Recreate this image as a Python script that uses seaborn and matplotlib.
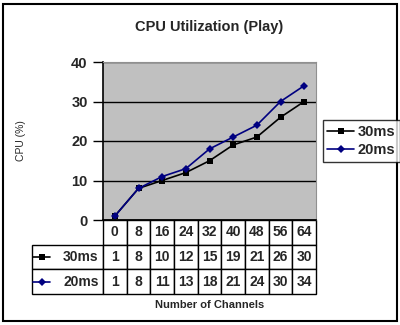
import matplotlib
matplotlib.use("Agg")
import matplotlib.pyplot as plt
import seaborn as sns
import pandas as pd
import numpy as np
from matplotlib.lines import Line2D
from matplotlib.patches import Rectangle

channels = [0, 8, 16, 24, 32, 40, 48, 56, 64]
cpu_30ms = [1, 8, 10, 12, 15, 19, 21, 26, 30]
cpu_20ms = [1, 8, 11, 13, 18, 21, 24, 30, 34]
series_names = ["30ms", "20ms"]
yticks = [0, 10, 20, 30, 40]

sns.set_theme(style="white")
plt.rcParams['font.family'] = ['Liberation Sans', 'DejaVu Sans']
plt.rcParams['font.weight'] = 'bold'

fig = plt.figure(figsize=(4, 3.25), dpi=100)
ax = fig.add_axes([103/400, 1-220/325, 213/400, 158/325])
ax.set_facecolor('#C0C0C0')

pos = np.arange(len(channels))
df = pd.DataFrame({"pos": np.concatenate([pos, pos]),
                   "cpu": cpu_30ms + cpu_20ms,
                   "series": [series_names[0]]*len(pos) + [series_names[1]]*len(pos)})
colors = {"30ms": "black", "20ms": "#000080"}
markers = {"30ms": "s", "20ms": "D"}
sizes = {"30ms": 5, "20ms": 4.2}
for name in series_names:
    sub = df[df.series == name]
    sns.lineplot(data=sub, x="pos", y="cpu", ax=ax, color=colors[name],
                 marker=markers[name], markersize=sizes[name], markeredgewidth=0,
                 linewidth=1.2, label=name, legend=False)

ax.set_xlim(-0.5, len(channels)-0.5)
ax.set_ylim(0, 40)
ax.set_yticks(yticks)
ax.set_yticklabels([str(t) for t in yticks], fontsize=10.5, fontweight='bold')
ax.set_xticks([])
ax.set_xlabel("")
ax.set_ylabel("CPU (%)", fontsize=7.5, fontweight='normal')
ax.yaxis.set_label_coords((26-103)/213, 0.5)
ax.yaxis.grid(True, color='black', linewidth=1)
ax.set_axisbelow(True)
ax.tick_params(axis='y', direction='out', length=7, width=1, color='black', left=True, pad=4)
for s in ['top', 'right']:
    ax.spines[s].set_color('#909090')
    ax.spines[s].set_linewidth(0.8)
ax.spines['left'].set_color('black')
ax.spines['left'].set_linewidth(1.2)
ax.spines['bottom'].set_color('black')

ax.set_title("CPU Utilization (Play)", fontsize=10.5, fontweight='bold', pad=22)

# data table
label_frac = 71/213
cell_text = [[""] + [str(c) for c in channels],
             ["30ms"] + [str(v) for v in cpu_30ms],
             ["20ms"] + [str(v) for v in cpu_20ms]]
tbl_h = 74/158
tbl = ax.table(cellText=cell_text, cellLoc='center',
               colWidths=[label_frac] + [1/9]*9,
               bbox=[-label_frac, -tbl_h, 1 + label_frac, tbl_h])
tbl.auto_set_font_size(False)
tbl.set_fontsize(10)
for (r, c), cell in tbl.get_celld().items():
    cell.set_linewidth(1.0)
    cell.set_edgecolor('black')
    cell.set_facecolor('white')
    cell.get_text().set_fontweight('bold')
    if c == 0:
        cell.get_text().set_ha('right')
        cell._loc = 'right'
        cell.PAD = 0.06
    if r == 0 and c == 0:
        cell.visible_edges = ''

# legend keys inside row-label cells
row_h = tbl_h / 3
for i, name in enumerate(series_names):
    yc = -row_h*(i+1) - row_h/2
    x0, x1 = (33-103)/213, (50-103)/213
    ax.add_line(Line2D([x0, x1], [yc, yc], transform=ax.transAxes, color=colors[name],
                       linewidth=1.2, clip_on=False))
    ax.add_line(Line2D([(x0+x1)/2], [yc], transform=ax.transAxes, color=colors[name],
                       marker=markers[name], markersize=sizes[name], markeredgewidth=0,
                       clip_on=False))

fig.text((103+213/2)/400, 1-305/325, "Number of Channels", ha='center', va='center',
         fontsize=8, fontweight='bold')

handles = [Line2D([0], [0], color=colors[n], marker=markers[n], markersize=sizes[n],
                  markeredgewidth=0, linewidth=1.2) for n in series_names]
leg = fig.legend(handles, series_names, loc='center left',
                 bbox_to_anchor=(323/400, 1-141/325), frameon=True, fancybox=False,
                 prop={'weight': 'bold', 'size': 10.5}, handlelength=1.8,
                 handletextpad=0.3, borderpad=0.3, labelspacing=0.3, borderaxespad=0)
leg.get_frame().set_edgecolor('black')
leg.get_frame().set_linewidth(1.0)

fig.patches.append(Rectangle((3/400, 4/325), 394/400, 317/325, transform=fig.transFigure,
                             fill=False, edgecolor='black', linewidth=1.5))

fig.savefig("out.png", dpi=100)
